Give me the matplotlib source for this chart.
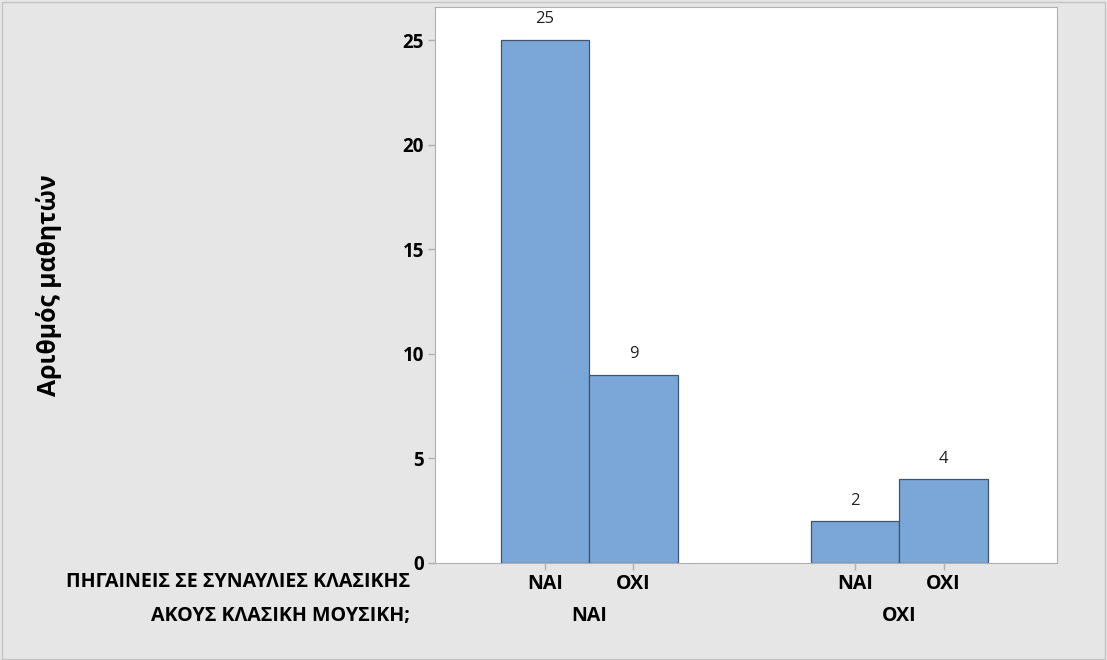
import matplotlib.pyplot as plt
import matplotlib.transforms as mtransforms
from matplotlib.patches import Rectangle

plt.rcParams['font.family'] = ['Open Sans', 'DejaVu Sans']

# data
katigories_synavlies = ['ΝΑΙ', 'ΟΧΙ', 'ΝΑΙ', 'ΟΧΙ']
katigories_akous = ['ΝΑΙ', 'ΟΧΙ']
plithos = [25, 9, 2, 4]
thesi = [0, 1, 3.5, 4.5]

bg = '#e6e6e6'
W, H = 1107, 660
fig = plt.figure(figsize=(W/100, H/100), dpi=100, facecolor=bg)
ax = fig.add_axes([435/W, 1-563/H, (1057-435)/W, (563-7)/H])

ax.bar(thesi, plithos, width=1.0, color='#7ba7d8', edgecolor='#44546a', linewidth=0.9)
for x, v in zip(thesi, plithos):
    ax.text(x, v + 0.6, str(v), ha='center', va='bottom', fontsize=12, color='#222222')

ax.set_xlim(-1.24, 5.78)
ax.set_ylim(0, 26.58)
ax.set_yticks([0, 5, 10, 15, 20, 25])
ax.set_xticks(thesi)
ax.set_xticklabels(katigories_synavlies, fontsize=14, fontweight='bold')
for lbl in ax.get_yticklabels():
    lbl.set_fontsize(13.5)
    lbl.set_fontweight('bold')
ax.tick_params(axis='both', color='#b0b0b0', length=5, width=1, pad=3)
for s in ax.spines.values():
    s.set_color('#b0b0b0')

# second row of category labels
trans = mtransforms.blended_transform_factory(ax.transData, fig.transFigure)
mesa = [(thesi[0] + thesi[1]) / 2, (thesi[2] + thesi[3]) / 2]
for x, t in zip(mesa, katigories_akous):
    ax.text(x, 1 - 616/H, t, transform=trans, ha='center', va='center',
            fontsize=14, fontweight='bold')

fig.text(410/W, 1 - 582/H, 'ΠΗΓΑΙΝΕΙΣ ΣΕ ΣΥΝΑΥΛΙΕΣ ΚΛΑΣΙΚΗΣ', ha='right', va='center',
         fontsize=14.1, fontweight='bold')
fig.text(410/W, 1 - 616/H, 'ΑΚΟΥΣ ΚΛΑΣΙΚΗ ΜΟΥΣΙΚΗ;', ha='right', va='center',
         fontsize=14.1, fontweight='bold')

fig.text(49/W, 1 - 285/H, 'Αριθμός μαθητών', rotation=90, ha='center', va='center',
         fontsize=17.8, fontweight='bold')

fig.patches.append(Rectangle((2/W, 1/H), 1 - 4/W, 1 - 3/H, transform=fig.transFigure,
                             fill=False, edgecolor='#c4c4c4', linewidth=1))

fig.savefig('out.png', dpi=100, facecolor=bg)
